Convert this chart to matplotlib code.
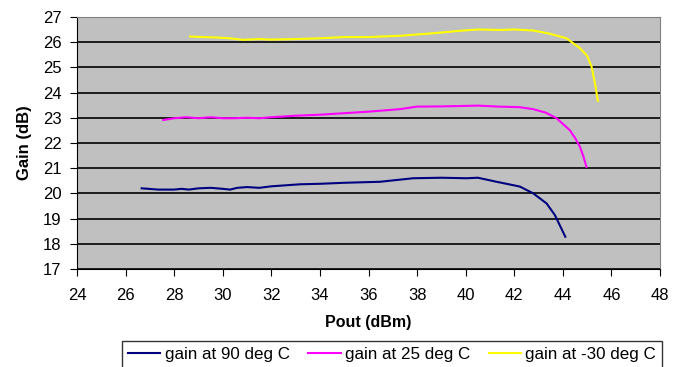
import numpy as np
import matplotlib.pyplot as plt

plt.rcParams['font.family'] = ['Liberation Sans', 'DejaVu Sans']

## Data
pout_90 = [26.66, 27.35, 28.0, 28.3, 28.6, 29.0, 29.5, 30.0, 30.3, 30.6, 31.0, 31.5, 32.0,
           33.18, 34.0, 35.0, 36.47, 37.84, 39.0, 40.03, 40.5, 41.27, 42.23, 42.78, 43.33,
           43.67, 43.94, 44.1]
gain_90 = [20.2, 20.15, 20.15, 20.18, 20.15, 20.2, 20.22, 20.18, 20.15, 20.22, 20.25, 20.22, 20.28,
           20.36, 20.38, 20.42, 20.46, 20.6, 20.62, 20.6, 20.62, 20.46, 20.27, 20.0, 19.6,
           19.14, 18.6, 18.28]

pout_25 = [27.55, 28.0, 28.5, 29.0, 29.5, 30.0, 30.5, 31.0, 31.5, 32.0, 33.0, 34.0, 35.0,
           36.0, 37.29, 37.98, 39.0, 40.04, 40.5, 41.4, 42.2, 42.78, 43.3, 43.74, 44.29,
           44.5, 44.7, 44.85, 44.97]
gain_25 = [22.91, 22.98, 23.02, 22.98, 23.02, 22.98, 22.98, 23.0, 22.98, 23.02, 23.08, 23.12, 23.18,
           23.24, 23.34, 23.44, 23.45, 23.47, 23.48, 23.44, 23.42, 23.34, 23.2, 22.98, 22.5,
           22.2, 21.85, 21.45, 21.05]

pout_m30 = [28.65, 29.2, 29.8, 30.3, 30.84, 31.5, 32.0, 33.0, 34.0, 35.0, 36.0, 37.29, 38.66,
            39.9, 40.5, 41.4, 42.0, 42.78, 43.47, 44.15, 44.7, 45.0, 45.18, 45.32, 45.44]
gain_m30 = [26.22, 26.2, 26.18, 26.15, 26.09, 26.12, 26.1, 26.12, 26.15, 26.2, 26.2, 26.25, 26.35,
            26.46, 26.5, 26.48, 26.5, 26.46, 26.33, 26.15, 25.76, 25.45, 25.03, 24.37, 23.67]

labels = ['gain at 90 deg C', 'gain at 25 deg C', 'gain at -30 deg C']
colors = ['#000080', '#FF00FF', '#FFFF00']

fig = plt.figure(figsize=(6.84, 3.67), dpi=100)
ax = fig.add_axes([0.1126, 0.267, 0.8524, 0.687])
ax.set_facecolor('#C0C0C0')

ax.plot(pout_90, gain_90, color=colors[0], lw=1.5, label=labels[0])
ax.plot(pout_25, gain_25, color=colors[1], lw=1.5, label=labels[1])
ax.plot(pout_m30, gain_m30, color=colors[2], lw=1.5, label=labels[2])

ax.set_xlim(24, 48)
ax.set_ylim(17, 27)
ax.set_xticks(np.arange(24, 49, 2))
ax.set_yticks(np.arange(17, 28, 1))
ax.grid(axis='y', color='black', lw=1.2)
ax.set_axisbelow(True)
ax.tick_params(labelsize=12, direction='out', length=5, color='black')
ax.tick_params(axis='x', pad=9)
ax.tick_params(axis='y', pad=6)

for s in ['top', 'right']:
    ax.spines[s].set_color('#808080')
for s in ['left', 'bottom']:
    ax.spines[s].set_color('black')

ax.set_xlabel('Pout (dBm)', fontsize=11.5, fontweight='bold', labelpad=8)
ax.set_ylabel('Gain (dB)', fontsize=12, fontweight='bold', labelpad=8)

leg = fig.legend(loc='upper left', bbox_to_anchor=(122 / 684, 1 - 341 / 367), ncol=3,
                 fontsize=12.25, frameon=True, fancybox=False, edgecolor='black',
                 handlelength=1.9, handletextpad=0.25, columnspacing=1.1,
                 borderpad=0.35, borderaxespad=0)
leg.get_frame().set_linewidth(1)

fig.savefig('out.png', dpi=100)
